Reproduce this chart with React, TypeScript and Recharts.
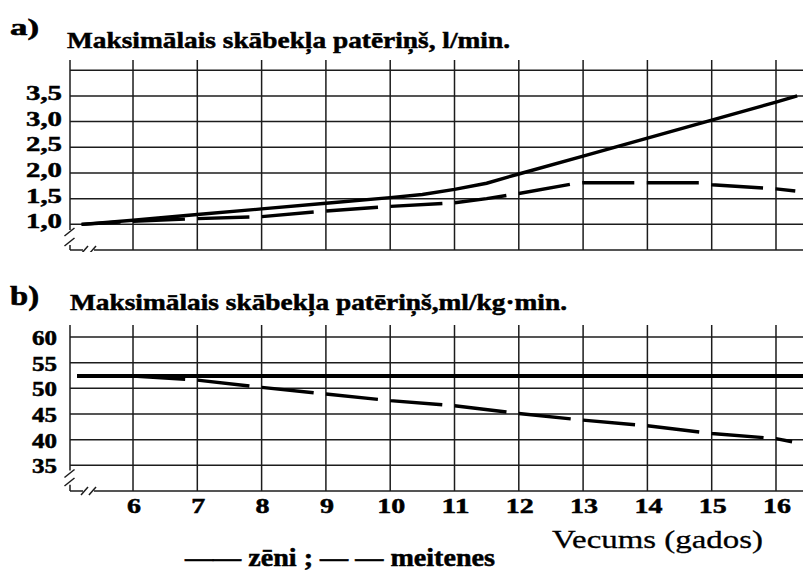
import React from 'react';
import { LineChart, Line, XAxis, YAxis, ReferenceLine } from 'recharts';

// ---------- data ----------
const ageTicks = [6, 7, 8, 9, 10, 11, 12, 13, 14, 15, 16];
const ageTickLabels = ['6', '7', '8', '9', '10', '11', '12', '13', '14', '15', '16'];

// a) absolute VO2max, l/min
const absTicks = [1.0, 1.5, 2.0, 2.5, 3.0, 3.5];
const absTickLabels = ['1,0', '1,5', '2,0', '2,5', '3,0', '3,5'];
const absGrid = [1.0, 1.5, 2.0, 2.5, 3.0, 3.5, 4.0];
const boysAbsAge = [5.2, 6, 7, 8, 9, 10, 10.5, 11, 11.5, 12, 13, 14, 15, 16, 16.33];
const boysAbsVal = [1.0, 1.08, 1.19, 1.3, 1.41, 1.52, 1.58, 1.68, 1.8, 1.98, 2.33, 2.68, 3.03, 3.38, 3.5];
const girlsAbsAge = [5.2, 6, 7, 8, 9, 10, 11, 11.5, 12, 12.8, 13, 14, 14.8, 15, 16, 16.3];
const girlsAbsVal = [1.0, 1.06, 1.11, 1.15, 1.26, 1.35, 1.42, 1.5, 1.6, 1.78, 1.81, 1.81, 1.81, 1.77, 1.69, 1.65];

// b) relative VO2max, ml/kg·min
const relTicks = [35, 40, 45, 50, 55, 60];
const relTickLabels = ['35', '40', '45', '50', '55', '60'];
const relGrid = [35, 40, 45, 50, 55, 60];
const boysRelAge = [5.13, 16.42];
const boysRelVal = [52.4, 52.4];
const girlsRelAge = [5.13, 6, 7, 8, 9, 10, 11, 12, 13, 14, 15, 16, 16.25];
const girlsRelVal = [52.4, 52.4, 51.6, 50.2, 48.9, 47.6, 46.6, 45.1, 43.8, 42.7, 41.2, 40.2, 39.6];

const zip = (a: number[], v: number[]) => a.map((age, i) => ({ age, v: v[i] }));
const boysAbs = zip(boysAbsAge, boysAbsVal);
const girlsAbs = zip(girlsAbsAge, girlsAbsVal);
const boysRel = zip(boysRelAge, boysRelVal);
const girlsRel = zip(girlsRelAge, girlsRelVal);

// ---------- styles ----------
const FONT = '"Liberation Serif", "Times New Roman", serif';
const AGE_MIN = 5.02;
const AGE_MAX = 16.42;
const GRID = '#1c1c1c';
const GW = 1.5;
const BOLD_STROKE = 0.5;

const makeYTick = (ticks: number[], labels: string[], size: number, len2: number, len3: number, dx: number, dy: number) =>
  (props: any) => {
    const { x, y, payload } = props;
    const label = labels[ticks.indexOf(payload.value)] ?? String(payload.value);
    const w = label.length >= 3 ? len3 : len2;
    return (
      <text x={x - dx - w} y={y + dy} fontFamily={FONT} fontWeight="bold" fontSize={size} fill="#000"
        stroke="#000" strokeWidth={BOLD_STROKE}
        textLength={w} lengthAdjust="spacingAndGlyphs">{label}</text>
    );
  };

const XTick = (props: any) => {
  const { x, y, payload } = props;
  const label = ageTickLabels[ageTicks.indexOf(payload.value)] ?? String(payload.value);
  const w = label.length > 1 ? 28 : 14;
  return (
    <text x={x - w / 2 + 1} y={y + 22} fontFamily={FONT} fontWeight="bold" fontSize={22} fill="#000"
      stroke="#000" strokeWidth={BOLD_STROKE}
      textLength={w} lengthAdjust="spacingAndGlyphs">{label}</text>
  );
};

const YTickA = makeYTick(absTicks, absTickLabels, 22, 30, 36, 8, 4);
const YTickB = makeYTick(relTicks, relTickLabels, 20, 25, 30, 13, 8);

const seg = (x1: number, y1: number, x2: number, y2: number) => [{ x: x1, y: y1 }, { x: x2, y: y2 }];

// axis breaks (in data units)
const breaksA = [
  seg(AGE_MIN, 4.2, AGE_MIN, 0.889),
  seg(AGE_MIN, 0.597, AGE_MIN, 0.5),
  seg(4.934, 0.773, 5.09, 0.928),
  seg(4.934, 0.578, 5.09, 0.734),
  seg(AGE_MIN, 0.5, 5.222, 0.5),
  seg(5.393, 0.5, AGE_MAX, 0.5),
  seg(5.191, 0.422, 5.3, 0.578),
  seg(5.315, 0.422, 5.424, 0.578),
];
const breaksB = [
  seg(AGE_MIN, 62.34, AGE_MIN, 34.0),
  seg(AGE_MIN, 31.2, AGE_MIN, 30),
  seg(4.934, 32.63, 5.09, 34.19),
  seg(4.934, 30.97, 5.09, 32.53),
  seg(AGE_MIN, 30, 5.222, 30),
  seg(5.393, 30, AGE_MAX, 30),
  seg(5.191, 29.22, 5.3, 30.78),
  seg(5.315, 29.22, 5.424, 30.78),
];

const texts = {
  labelA: 'a)',
  titleA: 'Maksimālais skābekļa patēriņš, l/min.',
  labelB: 'b)',
  titleB: 'Maksimālais skābekļa patēriņš,ml/kg·min.',
  xLabel: 'Vecums (gados)',
  legend: '—— zēni ; — — meitenes',
};

export default function App() {
  return (
    <div style={{ position: 'absolute', left: 0, top: 0, width: 803, height: 570, background: '#fff', overflow: 'hidden' }}>
      <div style={{ position: 'absolute', left: 0, top: 0 }}>
        <LineChart width={803} height={252} margin={{ top: 60, right: 0, bottom: 2, left: 0 }}>
          <XAxis type="number" dataKey="age" domain={[AGE_MIN, AGE_MAX]} allowDataOverflow ticks={ageTicks} hide />
          <YAxis type="number" domain={[0.5, 4.2]} allowDataOverflow ticks={absTicks} width={70}
            axisLine={false} tickLine={false} tickSize={0} tickMargin={0} tick={<YTickA />} interval={0} />
          {absGrid.map((v) => <ReferenceLine key={'h' + v} y={v} stroke={GRID} strokeWidth={GW} />)}
          {ageTicks.map((v) => <ReferenceLine key={'v' + v} x={v} stroke={GRID} strokeWidth={GW} />)}
          {breaksA.map((s, i) => <ReferenceLine key={'b' + i} segment={s} ifOverflow="visible" stroke={GRID} strokeWidth={GW} />)}
          <Line data={boysAbs} dataKey="v" type="linear" stroke="#000" strokeWidth={3.4} dot={false} isAnimationActive={false} />
          <Line data={girlsAbs} dataKey="v" type="linear" stroke="#000" strokeWidth={3.4} dot={false}
            strokeDasharray="52 12.5" strokeDashoffset={13} isAnimationActive={false} />
        </LineChart>
      </div>
      <div style={{ position: 'absolute', left: 0, top: 280 }}>
        <LineChart width={803} height={240} margin={{ top: 45, right: 0, bottom: 0, left: 0 }}>
          <XAxis type="number" dataKey="age" domain={[AGE_MIN, AGE_MAX]} allowDataOverflow ticks={ageTicks} height={29}
            axisLine={false} tickLine={false} tickSize={0} tickMargin={0} tick={<XTick />} interval={0} />
          <YAxis type="number" domain={[30, 62.34]} allowDataOverflow ticks={relTicks} width={70}
            axisLine={false} tickLine={false} tickSize={0} tickMargin={0} tick={<YTickB />} interval={0} />
          {relGrid.map((v) => <ReferenceLine key={'h' + v} y={v} stroke={GRID} strokeWidth={GW} />)}
          {ageTicks.map((v) => <ReferenceLine key={'v' + v} x={v} stroke={GRID} strokeWidth={GW} />)}
          {breaksB.map((s, i) => <ReferenceLine key={'b' + i} segment={s} ifOverflow="visible" stroke={GRID} strokeWidth={GW} />)}
          <Line data={boysRel} dataKey="v" type="linear" stroke="#000" strokeWidth={4} dot={false} isAnimationActive={false} />
          <Line data={girlsRel} dataKey="v" type="linear" stroke="#000" strokeWidth={3.4} dot={false}
            strokeDasharray="52.3 12.3" strokeDashoffset={8.7} isAnimationActive={false} />
        </LineChart>
      </div>
      <svg width={803} height={570} style={{ position: 'absolute', left: 0, top: 0, pointerEvents: 'none' }}>
        <g fontFamily={FONT} fill="#000">
          <text x={10} y={35} fontSize={24} fontWeight="bold" stroke="#000" strokeWidth={0.6} textLength={29} lengthAdjust="spacingAndGlyphs">{texts.labelA}</text>
          <text x={67} y={48} fontSize={24} fontWeight="bold" stroke="#000" strokeWidth={BOLD_STROKE} textLength={443} lengthAdjust="spacingAndGlyphs">{texts.titleA}</text>
          <text x={10} y={305} fontSize={27} fontWeight="bold" stroke="#000" strokeWidth={0.6} textLength={29} lengthAdjust="spacingAndGlyphs">{texts.labelB}</text>
          <text x={70} y={310} fontSize={23} fontWeight="bold" stroke="#000" strokeWidth={BOLD_STROKE} textLength={497} lengthAdjust="spacingAndGlyphs">{texts.titleB}</text>
          <text x={552} y={548} fontSize={26} stroke="#000" strokeWidth={0.3} textLength={211} lengthAdjust="spacingAndGlyphs">{texts.xLabel}</text>
          <text x={185} y={566} fontSize={25} fontWeight="bold" stroke="#000" strokeWidth={BOLD_STROKE} textLength={310} lengthAdjust="spacingAndGlyphs">{texts.legend}</text>
        </g>
      </svg>
    </div>
  );
}
